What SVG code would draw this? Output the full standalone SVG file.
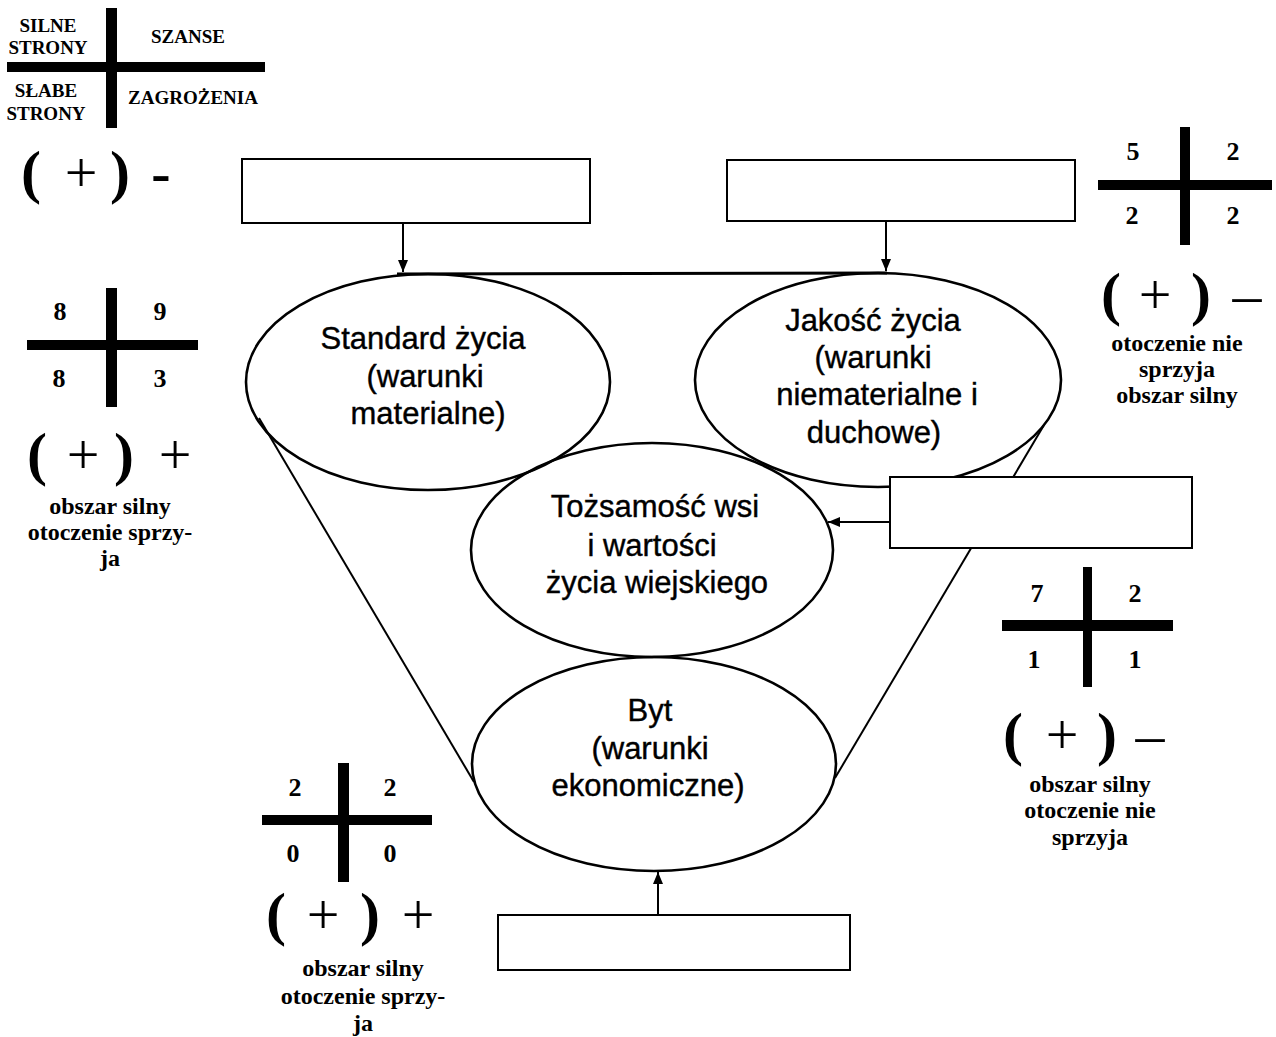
<svg xmlns="http://www.w3.org/2000/svg" width="1276" height="1037" viewBox="0 0 1276 1037">
<style>
.bg{fill:#fff}
.ell{fill:none;stroke:#000;stroke-width:2.6}
.box{fill:#fff;stroke:#000;stroke-width:2}
.ln{fill:none;stroke:#000;stroke-width:2}
.lbl{font-family:"Liberation Sans",Arial,sans-serif;font-size:31px;fill:#000;stroke:#000;stroke-width:0.4;text-anchor:middle}
.sw{font-family:"Liberation Serif","Times New Roman",serif;font-size:19px;font-weight:bold;fill:#000;text-anchor:middle}
.num{font-family:"Liberation Serif","Times New Roman",serif;font-size:26px;font-weight:bold;fill:#000;text-anchor:middle}
.big{font-family:"Liberation Serif","Times New Roman",serif;font-size:58px;fill:#000;text-anchor:middle}
.par{font-family:"Liberation Serif","Times New Roman",serif;font-size:60px;font-weight:bold;fill:#000;text-anchor:middle}
.bigb{font-family:"Liberation Serif","Times New Roman",serif;font-size:58px;font-weight:bold;fill:#000;text-anchor:middle}
.note{font-family:"Liberation Serif","Times New Roman",serif;font-size:24px;font-weight:bold;fill:#000;text-anchor:middle}
.bar{fill:#000}
</style>
<defs>
<marker id="ah" markerUnits="userSpaceOnUse" markerWidth="12" markerHeight="10" refX="12" refY="5" orient="auto">
<path d="M0,0 L12,5 L0,10 z" fill="#000"/>
</marker>
</defs>
<rect class="bg" x="0" y="0" width="1276" height="1037"/>

<g id="connectors">
<line class="ln" x1="397" y1="274" x2="887" y2="273" style="stroke-width:3"/>
<line class="ln" x1="259" y1="418" x2="474" y2="782"/>
<line class="ln" x1="1044" y1="425" x2="835" y2="778"/>
<line class="ln" x1="403" y1="224" x2="403" y2="272" marker-end="url(#ah)"/>
<line class="ln" x1="886" y1="222" x2="886" y2="271" marker-end="url(#ah)"/>
<line class="ln" x1="890" y1="522" x2="828" y2="522" marker-end="url(#ah)"/>
<line class="ln" x1="658" y1="915" x2="658" y2="872" marker-end="url(#ah)"/>
</g>

<g id="node-standard">
<ellipse class="ell" cx="428" cy="382" rx="182" ry="108"/>
<text class="lbl" x="423" y="349">Standard życia</text>
<text class="lbl" x="425" y="387">(warunki</text>
<text class="lbl" x="428" y="424">materialne)</text>
</g>
<g id="node-jakosc">
<ellipse class="ell" cx="878" cy="380" rx="183" ry="107"/>
<text class="lbl" x="873" y="331">Jakość życia</text>
<text class="lbl" x="873" y="368">(warunki</text>
<text class="lbl" x="877" y="405">niematerialne i</text>
<text class="lbl" x="874" y="443">duchowe)</text>
</g>
<g id="node-tozsamosc">
<ellipse class="ell" cx="652" cy="550" rx="181" ry="107"/>
<text class="lbl" x="655" y="517">Tożsamość wsi</text>
<text class="lbl" x="652" y="556">i wartości</text>
<text class="lbl" x="657" y="593">życia wiejskiego</text>
</g>
<g id="node-byt">
<ellipse class="ell" cx="654" cy="764" rx="182" ry="107"/>
<text class="lbl" x="650" y="721">Byt</text>
<text class="lbl" x="650" y="759">(warunki</text>
<text class="lbl" x="648" y="796">ekonomiczne)</text>
</g>

<g id="box-top-left"><rect class="box" x="242" y="159" width="348" height="64"/></g>
<g id="box-top-right"><rect class="box" x="727" y="160" width="348" height="61"/></g>
<g id="box-right"><rect class="box" x="890" y="477" width="302" height="71"/></g>
<g id="box-bottom"><rect class="box" x="498" y="915" width="352" height="55"/></g>

<g id="legend-swot">
<rect class="bar" x="7" y="62" width="258" height="10"/>
<rect class="bar" x="106" y="8" width="11" height="120"/>
<text class="sw" x="48" y="32">SILNE</text>
<text class="sw" x="48" y="54">STRONY</text>
<text class="sw" x="188" y="43">SZANSE</text>
<text class="sw" x="46" y="97">SŁABE</text>
<text class="sw" x="46" y="120">STRONY</text>
<text class="sw" x="193" y="104">ZAGROŻENIA</text>
<text class="par" x="31" y="192">(</text>
<text class="big" x="81" y="192">+</text>
<text class="par" x="120" y="192">)</text>
<text class="bigb" x="161" y="192">-</text>
</g>

<g id="legend-standard">
<rect class="bar" x="27" y="340" width="171" height="10"/>
<rect class="bar" x="106" y="288" width="11" height="119"/>
<text class="num" x="60" y="320">8</text>
<text class="num" x="160" y="320">9</text>
<text class="num" x="59" y="387">8</text>
<text class="num" x="160" y="387">3</text>
<text class="par" x="37" y="474">(</text>
<text class="big" x="83" y="474">+</text>
<text class="par" x="124" y="474">)</text>
<text class="big" x="175" y="474">+</text>
<text class="note" x="110" y="514">obszar silny</text>
<text class="note" x="110" y="540">otoczenie sprzy-</text>
<text class="note" x="110" y="566">ja</text>
</g>

<g id="legend-jakosc">
<rect class="bar" x="1098" y="180" width="174" height="10"/>
<rect class="bar" x="1180" y="127" width="10" height="118"/>
<text class="num" x="1133" y="160">5</text>
<text class="num" x="1233" y="160">2</text>
<text class="num" x="1132" y="224">2</text>
<text class="num" x="1233" y="224">2</text>
<text class="par" x="1111" y="314">(</text>
<text class="big" x="1155" y="314">+</text>
<text class="par" x="1201" y="314">)</text>
<text class="big" x="1247" y="314">–</text>
<text class="note" x="1177" y="351">otoczenie nie</text>
<text class="note" x="1177" y="377">sprzyja</text>
<text class="note" x="1177" y="403">obszar silny</text>
</g>

<g id="legend-tozsamosc">
<rect class="bar" x="1002" y="620" width="171" height="11"/>
<rect class="bar" x="1083" y="567" width="9" height="120"/>
<text class="num" x="1037" y="602">7</text>
<text class="num" x="1135" y="602">2</text>
<text class="num" x="1034" y="668">1</text>
<text class="num" x="1135" y="668">1</text>
<text class="par" x="1013" y="754">(</text>
<text class="big" x="1062" y="754">+</text>
<text class="par" x="1107" y="754">)</text>
<text class="big" x="1150" y="754">–</text>
<text class="note" x="1090" y="792">obszar silny</text>
<text class="note" x="1090" y="818">otoczenie nie</text>
<text class="note" x="1090" y="845">sprzyja</text>
</g>

<g id="legend-byt">
<rect class="bar" x="262" y="815" width="170" height="10"/>
<rect class="bar" x="338" y="763" width="11" height="119"/>
<text class="num" x="295" y="796">2</text>
<text class="num" x="390" y="796">2</text>
<text class="num" x="293" y="862">0</text>
<text class="num" x="390" y="862">0</text>
<text class="par" x="276" y="934">(</text>
<text class="big" x="323" y="934">+</text>
<text class="par" x="370" y="934">)</text>
<text class="big" x="418" y="934">+</text>
<text class="note" x="363" y="976">obszar silny</text>
<text class="note" x="363" y="1004">otoczenie sprzy-</text>
<text class="note" x="363" y="1031">ja</text>
</g>
</svg>
